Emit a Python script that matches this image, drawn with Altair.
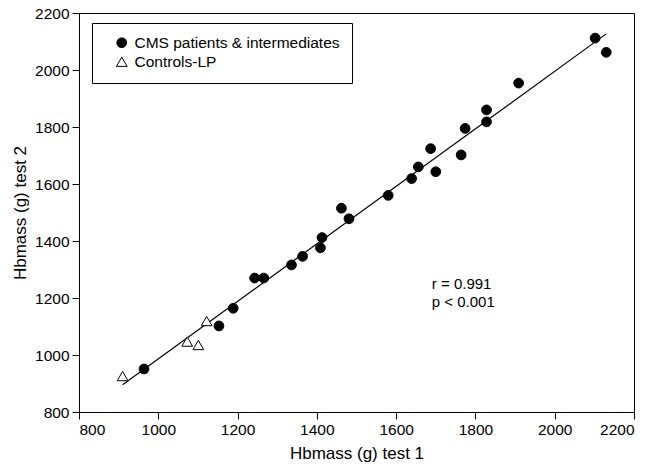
import altair as alt
import pandas as pd

# CMS patients & intermediates
cms_x = [964, 1153, 1189, 1243, 1266, 1336, 1364, 1409, 1413, 1462, 1481, 1580,
         1639, 1656, 1687, 1700, 1764, 1774, 1828, 1828, 1909, 2102, 2130]
cms_y = [951, 1102, 1164, 1270, 1270, 1316, 1346, 1376, 1412, 1515, 1478, 1560,
         1619, 1660, 1724, 1643, 1702, 1795, 1818, 1860, 1954, 2112, 2062]
# Controls-LP
ctrl_x = [910, 1073, 1101, 1122]
ctrl_y = [926, 1047, 1035, 1119]

groups = ["CMS patients & intermediates", "Controls-LP"]
ticks = [800, 1000, 1200, 1400, 1600, 1800, 2000, 2200]
stat_lines = ["r = 0.991", "p < 0.001"]

df = pd.DataFrame({
    "t1": cms_x + ctrl_x,
    "t2": cms_y + ctrl_y,
    "group": [groups[0]] * len(cms_x) + [groups[1]] * len(ctrl_x),
})

FONT = "Liberation Sans"

xs = alt.Scale(domain=[800, 2200], nice=False, zero=False)
ys = alt.Scale(domain=[800, 2200], nice=False, zero=False)

base = alt.Chart(df)

line = base.transform_regression("t1", "t2").mark_line(
    color="black", strokeWidth=1.2
).encode(
    x=alt.X("t1:Q", scale=xs),
    y=alt.Y("t2:Q", scale=ys),
)

points = base.mark_point(strokeWidth=1, opacity=1).encode(
    x=alt.X("t1:Q", scale=xs, title="Hbmass (g) test 1",
            axis=alt.Axis(values=ticks, format="d")),
    y=alt.Y("t2:Q", scale=ys, title="Hbmass (g) test 2",
            axis=alt.Axis(values=ticks, format="d")),
    shape=alt.Shape("group:N", scale=alt.Scale(domain=groups, range=["circle", "triangle-up"]),
                    legend=alt.Legend(title=None)),
    fill=alt.Fill("group:N", scale=alt.Scale(domain=groups, range=["black", "white"]),
                  legend=alt.Legend(title=None)),
    stroke=alt.Stroke("group:N", scale=alt.Scale(domain=groups, range=["black", "black"]),
                      legend=alt.Legend(title=None)),
    size=alt.Size("group:N", scale=alt.Scale(domain=groups, range=[95, 115]),
                  legend=alt.Legend(title=None)),
)

ann = pd.DataFrame({"x": [1690, 1690], "y": [1249, 1186], "label": stat_lines})
text = alt.Chart(ann).mark_text(
    align="left", baseline="middle", font=FONT, fontSize=15, color="black"
).encode(
    x=alt.X("x:Q", scale=xs),
    y=alt.Y("y:Q", scale=ys),
    text="label:N",
)

chart = alt.layer(line, points, text).properties(
    width=555,
    height=399,
    autosize=alt.AutoSizeParams(type="none"),
    padding={"left": 79, "top": 13, "right": 18, "bottom": 54},
    background="white",
).configure_view(
    stroke="black", strokeWidth=1
).configure_axis(
    grid=False,
    domainColor="black",
    tickColor="black",
    tickSize=7,
    labelColor="black",
    labelFont=FONT,
    labelFontSize=15.5,
    labelPadding=3,
    titleFont=FONT,
    titleFontSize=17,
    titleFontWeight="normal",
    titleColor="black",
).configure_axisX(
    titlePadding=8,
).configure_axisY(
    titlePadding=5,
).configure_legend(
    orient="none",
    legendX=13,
    legendY=10,
    strokeColor="black",
    fillColor="white",
    padding=12,
    symbolOffset=10,
    labelFont=FONT,
    labelFontSize=15.5,
    labelColor="black",
    symbolStrokeWidth=1,
    rowPadding=2,
    labelOffset=5,
    labelLimit=400,
)

chart.save("out.html", embed_options={"renderer": "svg", "actions": False})
